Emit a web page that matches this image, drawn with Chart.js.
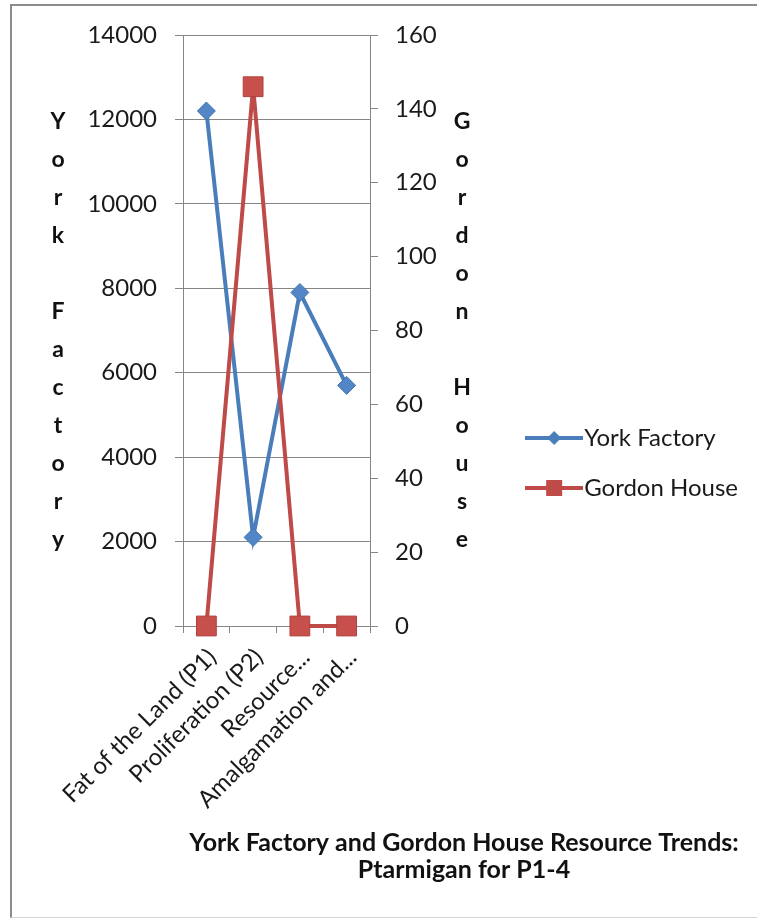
<!DOCTYPE html>
<html>
<head>
<meta charset="utf-8">
<script src="https://cdn.jsdelivr.net/npm/chart.js@4"></script>
<style>
  html, body { margin: 0; padding: 0; background: #fff; }
  #frame {
    position: absolute; left: 10px; top: 4px; width: 800px; height: 911px;
    border-left: 2px solid #8c8c8c; border-top: 2px solid #8c8c8c; border-bottom: 1px solid #d4d4d4;
  }
  #myChart { position: absolute; left: 0; top: 0; }
</style>
</head>
<body>
<div id="frame"></div>
<canvas id="myChart" width="757" height="919"></canvas>
<script>
// chart values
const categories = ['Fat of the Land (P1)', 'Proliferation (P2)', 'Resource...', 'Amalgamation and...'];
const yorkFactory = [12200, 2100, 7900, 5700];
const gordonHouse = [0, 146, 0, 0];
const leftAxisMax = 14000;
const leftAxisStep = 2000;
const rightAxisMax = 160;
const rightAxisStep = 20;
const leftTitle = 'York Factory';
const rightTitle = 'Gordon House';
const chartTitle = ['York Factory and Gordon House Resource Trends:', 'Ptarmigan for P1-4'];

const BLUE = '#4a7ebb';
const RED = '#be4b48';
const GRID = '#868686';
const FONT = 'Lato';

// little line+marker picture for the legend
function legendIcon(color, marker) {
    const c = document.createElement('canvas');
    c.width = 58; c.height = 24;
    const g = c.getContext('2d');
    g.strokeStyle = color;
    g.lineWidth = 4;
    g.beginPath(); g.moveTo(0, 12); g.lineTo(58, 12); g.stroke();
    g.fillStyle = color;
    if (marker === 'diamond') {
        g.beginPath();
        g.moveTo(29, 5); g.lineTo(36, 12); g.lineTo(29, 19); g.lineTo(22, 12);
        g.closePath(); g.fill();
    } else {
        g.fillRect(21, 4, 16, 16);
    }
    return c;
}
const icons = [legendIcon(BLUE, 'diamond'), legendIcon(RED, 'square')];

const stackedTitles = {
    id: 'stackedTitles',
    afterDraw(chart) {
        const ctx = chart.ctx;
        const area = chart.chartArea;
        const midY = (area.top + area.bottom) / 2;
        const lineH = 38;
        ctx.save();
        ctx.fillStyle = '#111';
        ctx.textAlign = 'center';
        ctx.textBaseline = 'middle';
        ctx.font = 'bold 23px ' + FONT;
        const drawStack = (text, x) => {
            const chars = text.split('');
            const y0 = midY - (chars.length - 1) * lineH / 2;
            chars.forEach((ch, i) => { if (ch !== ' ') ctx.fillText(ch, x, y0 + i * lineH); });
        };
        drawStack(leftTitle, chart.scales.y.left + 58);
        drawStack(rightTitle, chart.scales.y1.left + 92);
        ctx.font = 'bold 25px ' + FONT;
        chartTitle.forEach((t, i) => ctx.fillText(t, 464, 843 + i * 27));
        ctx.restore();
    }
};

const plain = v => String(v);

const ctx = document.getElementById('myChart').getContext('2d');
const myChart = new Chart(ctx, {
    type: 'line',
    data: {
        labels: categories,
        datasets: [ {
                        label: 'York Factory',
                        data: yorkFactory,
                        yAxisID: 'y',
                        order: 1,
                        borderColor: BLUE,
                        backgroundColor: BLUE,
                        borderWidth: 4,
                        pointStyle: 'rectRot',
                        pointRadius: 9,
                        pointBorderWidth: 1,
                        pointBorderColor: '#4274b0',
                        pointBackgroundColor: '#5286c6',
                        clip: false
                    },
                    {
                        label: 'Gordon House',
                        data: gordonHouse,
                        yAxisID: 'y1',
                        order: 0,
                        borderColor: RED,
                        backgroundColor: RED,
                        borderWidth: 4,
                        pointStyle: 'rect',
                        pointRadius: 14,
                        pointBorderWidth: 1,
                        pointBorderColor: '#b0403d',
                        pointBackgroundColor: '#c8504c',
                        clip: false
                    }
        ]
    },
    options: {
        responsive: false,
        animation: false,
        devicePixelRatio: 1,
        layout: { padding: { top: 35, left: 0, right: 9, bottom: 28 } },
        plugins: {
            title: { display: false },
            tooltip: { enabled: false },
            legend: {
                position: 'right',
                maxWidth: 400,
                labels: {
                    color: '#1a1a1a',
                    font: { family: FONT, size: 24 },
                    usePointStyle: true,
                    pointStyleWidth: 36,
                    boxHeight: 24,
                    padding: 26,
                    sort: (a, b) => a.datasetIndex - b.datasetIndex,
                    generateLabels(chart) {
                        const items = Chart.defaults.plugins.legend.labels.generateLabels(chart);
                        items.forEach(it => { it.pointStyle = icons[it.datasetIndex]; });
                        return items;
                    }
                }
            }
        },
        scales: {
            x: {
                offset: true,
                grid: { offset: true, drawOnChartArea: false, tickLength: 7, color: GRID },
                border: { display: true, color: GRID },
                ticks: {
                    autoSkip: false,
                    minRotation: 45,
                    maxRotation: 45,
                    padding: 10,
                    labelOffset: 6,
                    color: '#1a1a1a',
                    font: { family: FONT, size: 24 }
                },
                afterFit(scale) { scale.height = 265; }
            },
            y: {
                type: 'linear',
                position: 'left',
                min: 0,
                max: leftAxisMax,
                grid: { color: GRID, tickLength: 8 },
                border: { display: true, color: GRID },
                ticks: {
                    stepSize: leftAxisStep,
                    padding: 18,
                    callback: plain,
                    color: '#1a1a1a',
                    font: { family: FONT, size: 24 }
                },
                afterFit(scale) { scale.width = 183; }
            },
            y1: {
                type: 'linear',
                position: 'right',
                min: 0,
                max: rightAxisMax,
                grid: { drawOnChartArea: false, color: GRID, tickLength: 8 },
                border: { display: true, color: GRID },
                ticks: {
                    stepSize: rightAxisStep,
                    padding: 17,
                    callback: plain,
                    color: '#1a1a1a',
                    font: { family: FONT, size: 24 }
                },
                afterFit(scale) {
                    const ch = scale.chart;
                    scale.width = ch.width - 9 - ch.legend.width - 370;
                }
            }
        }
    },
    plugins: [stackedTitles]
});
</script>
</body>
</html>
